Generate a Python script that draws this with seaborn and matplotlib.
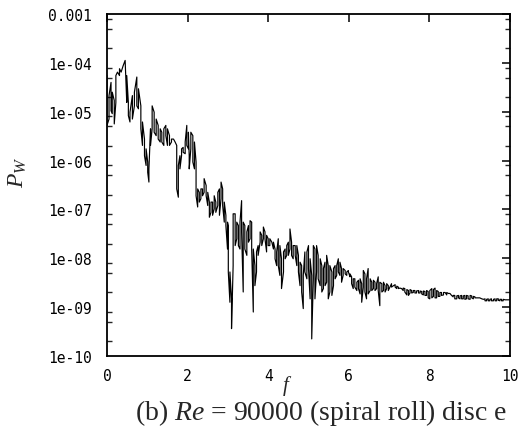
import numpy as np
import pandas as pd
import matplotlib
matplotlib.use("Agg")
import matplotlib.pyplot as plt
import matplotlib.ticker as mticker
import seaborn as sns

# frequency columns and the high / low log10(P_W) values read in each column
freq = [0.00, 0.05, 0.10, 0.13, 0.18, 0.22, 0.26, 0.31, 0.35, 0.40, 0.45, 0.49, 0.53, 0.57, 0.63, 0.68,
        0.74, 0.78, 0.84, 0.88, 0.93, 0.97, 1.01, 1.04, 1.08, 1.12, 1.17, 1.22, 1.27, 1.32, 1.36, 1.41,
        1.46, 1.50, 1.55, 1.60, 1.65, 1.69, 1.73, 1.77, 1.81, 1.85, 1.89, 1.94, 1.98, 2.02, 2.04, 2.08,
        2.13, 2.17, 2.21, 2.25, 2.29, 2.33, 2.37, 2.41, 2.46, 2.50, 2.54, 2.58, 2.62, 2.66, 2.70, 2.75,
        2.79, 2.83, 2.87, 2.91, 2.95, 2.99, 3.01, 3.05, 3.09, 3.13, 3.18, 3.22, 3.26, 3.30, 3.34, 3.38,
        3.42, 3.47, 3.51, 3.55, 3.59, 3.63, 3.67, 3.71, 3.75, 3.80, 3.84, 3.88, 3.92, 3.96, 4.00, 4.04,
        4.09, 4.13, 4.17, 4.21, 4.25, 4.29, 4.33, 4.38, 4.42, 4.46, 4.50, 4.54, 4.58, 4.62, 4.67, 4.71,
        4.75, 4.79, 4.83, 4.87, 4.91, 4.96, 5.00, 5.04, 5.08, 5.12, 5.16, 5.20, 5.24, 5.29, 5.33, 5.37,
        5.41, 5.45, 5.49, 5.53, 5.58, 5.62, 5.66, 5.70, 5.74, 5.78, 5.82, 5.86, 5.91, 5.95, 5.99, 6.03,
        6.07, 6.11, 6.15, 6.20, 6.24, 6.28, 6.32, 6.36, 6.40, 6.44, 6.48, 6.53, 6.57, 6.61, 6.65, 6.69,
        6.73, 6.77, 6.82, 6.86, 6.90, 6.94, 6.98, 7.02, 7.06, 7.11, 7.15, 7.19, 7.23, 7.27, 7.31, 7.35,
        7.39, 7.44, 7.48, 7.52, 7.56, 7.60, 7.64, 7.68, 7.73, 7.77, 7.81, 7.85, 7.89, 7.93, 7.97, 8.01,
        8.06, 8.10, 8.14, 8.18, 8.22, 8.26, 8.30, 8.35, 8.39, 8.43, 8.47, 8.51, 8.55, 8.59, 8.63, 8.68,
        8.72, 8.76, 8.80, 8.84, 8.88, 8.92, 8.96, 9.01, 9.05, 9.09, 9.13, 9.17, 9.21, 9.25, 9.30, 9.34,
        9.38, 9.42, 9.46, 9.50, 9.54, 9.59, 9.63, 9.67, 9.71, 9.75, 9.79, 9.83, 9.88, 9.92, 9.96, 10.00]

log_pw_high = [-4.26, -4.67, -4.40, -4.60, -4.77, -4.26, -4.19, -4.12, -4.19, -4.06, -3.95, -4.26, -4.81, -5.01, -4.67, -4.60,
               -4.29, -4.53, -4.88, -5.21, -5.56, -5.76, -6.03, -6.17, -5.35, -4.88, -5.01, -5.15, -5.28, -5.35, -5.42, -5.35,
               -5.28, -5.35, -5.49, -5.56, -5.56, -5.62, -5.69, -6.10, -5.90, -5.76, -5.73, -5.62, -5.28, -5.42, -5.90, -5.42,
               -5.49, -5.62, -6.03, -6.58, -6.65, -6.58, -6.58, -6.37, -6.51, -6.65, -6.85, -6.85, -6.85, -6.72, -6.85, -6.65,
               -6.58, -6.44, -6.58, -6.85, -7.12, -7.26, -7.33, -8.28, -8.83, -7.09, -7.09, -7.26, -7.33, -7.26, -6.82, -7.26,
               -7.33, -7.46, -7.33, -7.23, -7.26, -7.81, -8.15, -7.87, -7.74, -7.46, -7.53, -7.36, -7.46, -7.53, -7.60, -7.60,
               -7.67, -7.67, -7.81, -7.87, -7.60, -7.74, -8.01, -7.87, -7.81, -7.74, -7.67, -7.40, -7.67, -7.74, -7.74, -7.74,
               -7.94, -8.08, -8.15, -8.35, -7.87, -7.87, -7.74, -8.01, -8.35, -7.74, -7.81, -7.74, -7.94, -8.01, -8.15, -8.21,
               -8.08, -7.94, -8.15, -8.15, -8.28, -8.21, -8.15, -8.15, -8.01, -8.08, -8.21, -8.21, -8.25, -8.28, -8.25, -8.32,
               -8.38, -8.42, -8.42, -8.49, -8.45, -8.42, -8.52, -8.25, -8.32, -8.42, -8.21, -8.42, -8.49, -8.45, -8.49, -8.52,
               -8.38, -8.49, -8.52, -8.49, -8.56, -8.52, -8.56, -8.59, -8.52, -8.56, -8.54, -8.57, -8.59, -8.61, -8.62, -8.61,
               -8.62, -8.64, -8.66, -8.64, -8.66, -8.66, -8.66, -8.67, -8.66, -8.67, -8.68, -8.67, -8.68, -8.66, -8.68, -8.66,
               -8.62, -8.64, -8.61, -8.66, -8.68, -8.70, -8.70, -8.70, -8.70, -8.70, -8.72, -8.72, -8.76, -8.76, -8.76, -8.77,
               -8.76, -8.77, -8.76, -8.77, -8.76, -8.76, -8.77, -8.76, -8.77, -8.78, -8.79, -8.81, -8.81, -8.81, -8.83, -8.84,
               -8.83, -8.84, -8.83, -8.84, -8.83, -8.84, -8.83, -8.83, -8.83, -8.84, -8.84, -8.84, -8.85, -8.85, -8.85, -8.85]

log_pw_low = [-5.28, -5.15, -4.98, -5.04, -5.25, -4.81, -4.19, -4.26, -4.19, -4.06, -3.95, -4.81, -5.08, -5.21, -5.15, -4.88,
              -4.88, -4.94, -5.35, -5.69, -5.90, -6.10, -6.24, -6.44, -5.69, -5.35, -5.42, -5.49, -5.56, -5.62, -5.62, -5.69,
              -5.49, -5.69, -5.69, -5.62, -5.56, -5.62, -6.58, -6.75, -6.17, -5.90, -5.83, -5.86, -5.69, -5.76, -6.17, -5.76,
              -6.03, -6.17, -6.72, -6.95, -6.85, -6.78, -6.72, -6.65, -6.72, -6.92, -7.16, -7.06, -7.12, -6.99, -7.06, -6.92,
              -7.12, -6.78, -6.92, -7.26, -7.33, -7.81, -8.28, -8.90, -9.44, -8.15, -7.74, -7.60, -7.74, -7.81, -7.46, -8.69,
              -7.81, -7.94, -7.67, -7.60, -7.81, -9.10, -8.56, -8.28, -7.94, -7.67, -7.74, -7.60, -7.60, -7.87, -7.74, -7.74,
              -7.67, -7.81, -8.01, -8.15, -8.15, -8.35, -8.62, -8.28, -8.01, -7.94, -7.94, -7.81, -7.94, -8.01, -7.94, -8.15,
              -8.28, -8.56, -8.69, -9.03, -8.28, -8.42, -8.21, -8.83, -9.65, -8.42, -8.83, -8.28, -8.42, -8.56, -8.69, -8.62,
              -8.56, -8.49, -8.83, -8.69, -8.76, -8.56, -8.42, -8.35, -8.28, -8.35, -8.49, -8.35, -8.32, -8.35, -8.28, -8.38,
              -8.52, -8.62, -8.59, -8.66, -8.62, -8.73, -8.90, -8.59, -8.69, -8.83, -8.73, -8.66, -8.66, -8.62, -8.66, -8.62,
              -8.66, -8.97, -8.69, -8.66, -8.69, -8.62, -8.66, -8.59, -8.59, -8.56, -8.59, -8.62, -8.62, -8.61, -8.62, -8.66,
              -8.69, -8.75, -8.76, -8.71, -8.71, -8.70, -8.71, -8.71, -8.71, -8.71, -8.73, -8.75, -8.76, -8.76, -8.81, -8.83,
              -8.81, -8.78, -8.81, -8.81, -8.78, -8.78, -8.76, -8.75, -8.70, -8.75, -8.72, -8.72, -8.76, -8.79, -8.83, -8.83,
              -8.81, -8.83, -8.83, -8.83, -8.84, -8.83, -8.83, -8.84, -8.81, -8.83, -8.81, -8.81, -8.81, -8.81, -8.83, -8.84,
              -8.87, -8.87, -8.87, -8.87, -8.87, -8.87, -8.87, -8.87, -8.86, -8.87, -8.87, -8.87, -8.85, -8.85, -8.85, -8.85]

x_ticks = [0, 2, 4, 6, 8, 10]
x_tick_labels = ["0", "2", "4", "6", "8", "10"]
y_ticks = [1e-10, 1e-9, 1e-8, 1e-7, 1e-6, 1e-5, 1e-4, 1e-3]
y_tick_labels = ["1e-10", "1e-09", "1e-08", "1e-07", "1e-06", "1e-05", "1e-04", "0.001"]

# build the trace: each column drawn as a vertical stroke, alternating direction
xs, ys = [], []
for i, (f, hi, lo) in enumerate(zip(freq, log_pw_high, log_pw_low)):
    pair = (hi, lo) if i % 2 == 0 else (lo, hi)
    xs += [f, f]
    ys += [10.0 ** pair[0], 10.0 ** pair[1]]
df = pd.DataFrame({"f": xs, "pw": ys})

sns.set_style("white")
plt.rcParams["mathtext.fontset"] = "custom"
plt.rcParams["mathtext.rm"] = "Liberation Serif"
plt.rcParams["mathtext.it"] = "Liberation Serif:italic"

fig = plt.figure(figsize=(5.28, 4.39), dpi=100)
ax = fig.add_axes([107 / 528, 1 - 357 / 439, (510 - 107) / 528, (357 - 15) / 439])

sns.lineplot(data=df, x="f", y="pw", sort=False, estimator=None, color="black",
             linewidth=0.85, ax=ax, legend=False)

ax.set_yscale("log")
ax.set_xlim(0, 10)
ax.set_ylim(1e-10, 1e-3)
ax.set_xticks(x_ticks)
ax.set_xticklabels(x_tick_labels)
ax.set_yticks(y_ticks)
ax.set_yticklabels(y_tick_labels)
ax.yaxis.set_minor_locator(mticker.LogLocator(base=10, subs=[2, 5, 8], numticks=20))
ax.yaxis.set_minor_formatter(mticker.NullFormatter())
ax.xaxis.set_minor_locator(mticker.NullLocator())

for s in ax.spines.values():
    s.set_color("black")
    s.set_linewidth(1.3)

mono = "DejaVu Sans Mono"
ax.tick_params(axis="both", which="major", direction="in", length=6, width=1.1,
               top=True, right=True, colors="black", labelsize=10.5)
ax.tick_params(axis="y", which="minor", direction="in", length=3.5, width=1.0,
               left=True, right=True)
ax.tick_params(axis="y", which="major", pad=11)
ax.tick_params(axis="x", which="major", pad=9)
for lab in ax.get_xticklabels() + ax.get_yticklabels():
    lab.set_fontfamily(mono)

ax.set_xlabel("")
ax.set_ylabel("")

fig.text(287 / 528, 1 - 386 / 439, "$f$", fontsize=15, ha="center", va="center")
fig.text(17 / 528, 1 - 172 / 439, "$P_W$", fontsize=17, ha="center", va="center",
         rotation=90)
fig.text(321 / 528, 1 - 413 / 439, "(b) $Re$ = 90000 (spiral roll) disc e",
         fontsize=20, ha="center", va="center", family="Liberation Serif")

fig.savefig("out.png", dpi=100, facecolor="white")
